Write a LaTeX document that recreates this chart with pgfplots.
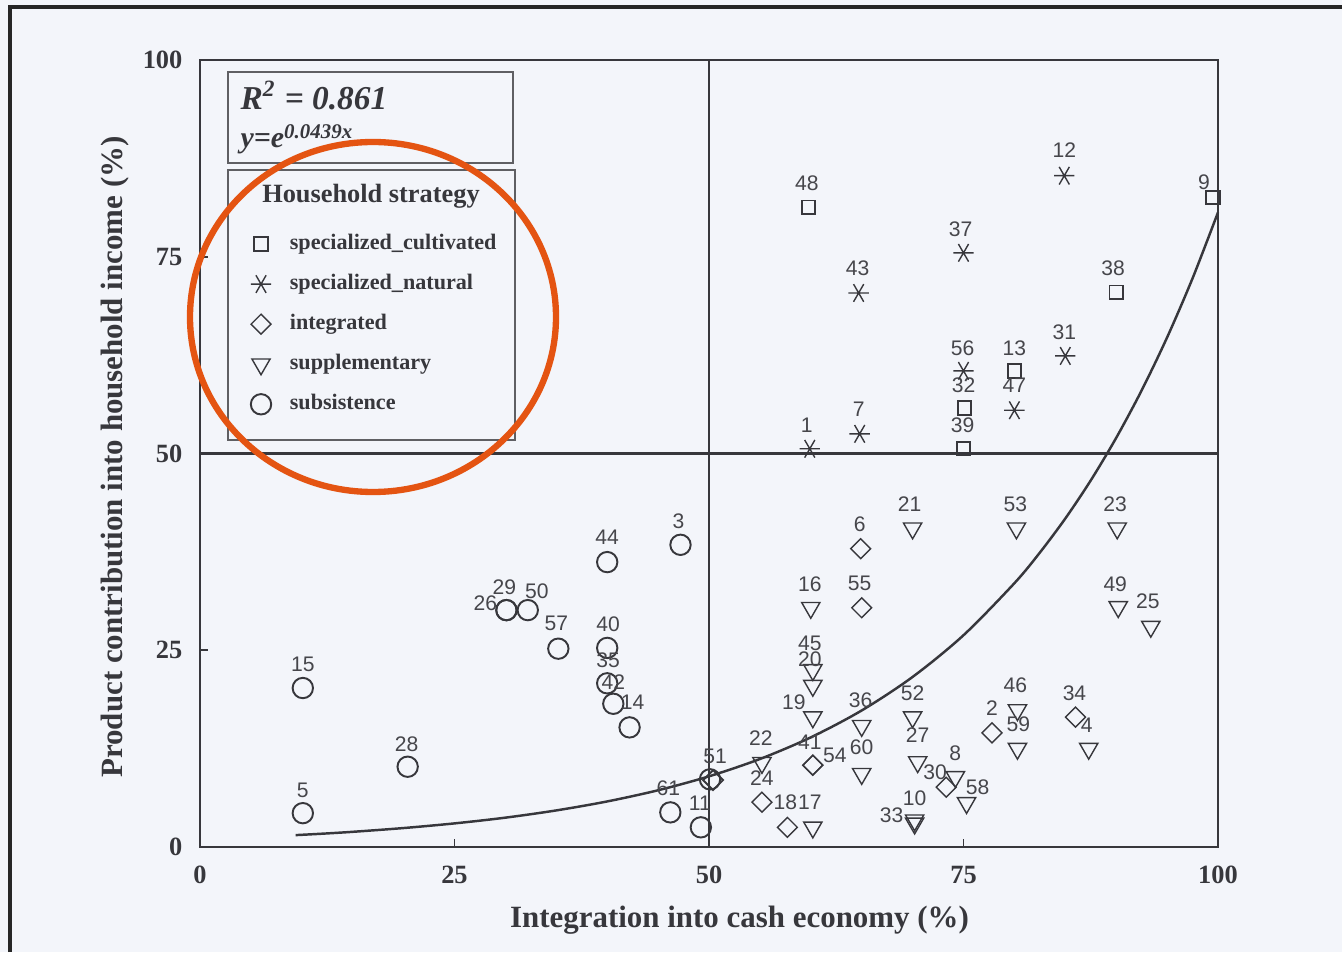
\documentclass[border=0pt]{standalone}
\usepackage{fontspec}
\setmainfont{Liberation Serif}
\newfontfamily\arial{Liberation Sans}
\usepackage{pgfplots}
\usepackage{pgfplotstable}
\pgfplotsset{compat=1.18}

\definecolor{bg}{RGB}{243,245,250}
\definecolor{ink}{RGB}{55,55,60}
\definecolor{lbl}{RGB}{70,70,75}
\definecolor{orng}{RGB}{228,84,18}

% x y label dx dy   (label offsets in 0.1 mm)
\pgfplotstableread{
x y lab dx dy
59.8 81.3 48 -2 24
99.5 82.5 9 -9 15
90.0 70.5 38 -3 24
80.0 60.5 13 0 23
75.1 55.8 32 -1 23
75.0 50.6 39 -1 24
}\cultivated

\pgfplotstableread{
x y lab dx dy
84.9 85.3 12 0 26
75.0 75.5 37 -3 24
64.7 70.4 43 -1 25
85.0 62.4 31 -1 24
75.0 60.5 56 -1 23
80.0 55.5 47 0 25
64.8 52.5 7 -1 25
59.9 50.6 1 -3 24
}\natural

\pgfplotstableread{
x y lab dx dy
64.9 37.9 6 -1 24
65.0 30.4 55 -2 24
77.8 14.5 2 0 25
86.0 16.5 34 -1 24
60.2 10.4 41 -3 23
60.2 10.4 54 22 10
73.3 7.6 30 -11 15
55.2 5.7 24 0 24
57.7 2.5 18 -2 25
}\integrated

\pgfplotstableread{
x y lab dx dy
70.0 40.5 21 -3 24
80.2 40.5 53 -1 24
90.1 40.5 23 -2 24
60.0 30.4 16 -1 24
90.2 30.5 49 -3 23
93.4 28.0 25 -3 25
60.2 22.5 45 -3 27
60.2 20.5 20 -3 26
60.2 16.5 19 -19 15
65.0 15.4 36 -1 26
70.0 16.5 52 0 24
80.3 17.4 46 -2 25
80.3 12.5 59 1 24
87.3 12.5 4 -2 23
55.2 10.7 22 -1 25
65.0 9.3 60 0 27
70.5 10.8 27 0 27
74.2 8.9 8 0 24
75.3 5.6 58 11 16
60.2 2.5 17 -3 25
70.2 3.4 10 0 22
70.2 3.0 33 -23 8
}\supplementary

\pgfplotstableread{
x y lab dx dy
47.2 38.4 3 -2 24
40.0 36.2 44 0 25
30.1 30.1 26 -21 7
30.1 30.1 29 -2 23
32.2 30.1 50 9 19
35.2 25.2 57 -2 25
40.0 25.3 40 1 24
40.0 20.8 35 1 23
40.6 18.2 42 0 22
42.2 15.2 14 3 25
10.1 20.2 15 0 24
20.4 10.2 28 -1 22
10.1 4.3 5 0 23
46.2 4.4 61 -2 24
49.2 2.5 11 -1 24
50.1 8.6 51 5 23
}\subsistence

\pgfplotsset{
  pts/.style={only marks, ink, mark options={line width=0.55pt, fill=none},
    nodes near coords, point meta=explicit symbolic,
    visualization depends on={\thisrow{dx}\as\dx},
    visualization depends on={\thisrow{dy}\as\dy},
    every node near coord/.append style={anchor=center, inner sep=0pt,
      font=\arial\fontsize{6}{6}\selectfont, text=lbl,
      xshift=\dx*0.1mm, yshift=\dy*0.1mm}},
}

\begin{document}
\begin{tikzpicture}
\fill[bg] (-20mm,-10.5mm) rectangle (114.2mm,84.7mm);
\useasboundingbox (-20mm,-10.5mm) rectangle (114.2mm,84.7mm);
\draw[line width=1pt, black!85] (-19mm,-10.5mm) -- (-19mm,84.0mm) -- (114.2mm,84.0mm);

\begin{axis}[
    scale only axis, width=101.8mm, height=78.7mm,
    xmin=0, xmax=100, ymin=0, ymax=100,
    xtick={0,25,50,75,100}, ytick={0,25,50,75,100},
    xtick pos=bottom, ytick pos=left,
    major tick length=2.3pt, tick style={ink, line width=0.5pt},
    axis line style={ink, line width=0.6pt},
    /pgf/number format/assume math mode=true,
    tick label style={font=\bfseries\fontsize{7.5}{9}\selectfont, text=ink},
    xticklabel style={yshift=-2pt},
    yticklabel style={xshift=-1.5pt},
    xlabel={Integration into cash economy (\%)},
    ylabel={Product contribution into household income (\%)},
    label style={font=\bfseries\fontsize{8.8}{10}\selectfont, text=ink},
    xlabel style={at={(axis description cs:0.530,-0.0928)}, anchor=center},
    ylabel style={at={(axis description cs:-0.0835,0.4956)}, anchor=center},
    clip=false,
    legend image code/.code={
      \path[draw=none, fill=none] (-3.2pt,-3.5pt) rectangle (3.2pt,3.5pt);
      \draw[#1] plot coordinates {(0pt,0pt)};},
    legend cell align=left,
    legend style={draw=none, fill=none, inner sep=0pt, outer sep=0pt,
      at={(axis description cs:0.0489,0.7818)}, anchor=north west,
      row sep=4.4pt, column sep=5pt,
      font=\bfseries\fontsize{6.3}{7}\selectfont, text=ink,
      nodes={inner sep=0pt, text height=4.4pt, text depth=1.4pt}},
  ]
\addplot[pts, mark=square, mark size=1.9pt] table[x=x, y=y, meta=lab] {\cultivated};
\addlegendentry{specialized\_cultivated}
\addplot[pts, mark=asterisk, mark size=2.9pt, mark options={rotate=90}] table[x=x, y=y, meta=lab] {\natural};
\addlegendentry{specialized\_natural}
\addplot[pts, mark=square, mark size=2pt, mark options={rotate=45}] table[x=x, y=y, meta=lab] {\integrated};
\addlegendentry{integrated}
\addplot[pts, mark=triangle, mark size=3pt, mark options={rotate=180}] table[x=x, y=y, meta=lab] {\supplementary};
\addlegendentry{supplementary}
\addplot[pts, mark=o, mark size=2.9pt] table[x=x, y=y, meta=lab] {\subsistence};
\addlegendentry{subsistence}

% unlabelled diamond behind point 51
\addplot[only marks, ink, forget plot, mark=square, mark size=2pt,
  mark options={rotate=45, line width=0.55pt}] coordinates {(50.4,8.5)};

% quadrant lines
\addplot[ink, line width=0.6pt, forget plot] coordinates {(0,50) (100,50)};
\addplot[ink, line width=0.6pt, forget plot] coordinates {(50,0) (50,100)};

% fitted curve y = e^{0.0439x}
\addplot[ink, line width=0.7pt, smooth, forget plot] coordinates {
(9.4,1.51)(12,1.69)(15,1.93)(20,2.41)(25,3.00)(30,3.73)(35,4.65)(40,5.79)
(45,7.21)(50,8.98)(55,11.18)(60,13.93)(65,17.35)(70,21.61)(75,26.91)
(80,33.52)(82.5,37.41)(85,41.74)(87.5,46.58)(90,51.99)(92.5,58.02)
(95,64.75)(97.5,72.26)(100,80.64)};
\end{axis}

% boxes and text in the upper left
\draw[ink!80, line width=0.8pt] (2.8mm,68.4mm) rectangle (31.3mm,77.5mm);
\node[anchor=base west, inner sep=0pt, text=ink,
  font=\bfseries\itshape\fontsize{9.5}{11}\selectfont] at (4.0mm,73.7mm)
  {R\textsuperscript{2} = 0.861};
\node[anchor=base west, inner sep=0pt, text=ink,
  font=\bfseries\itshape\fontsize{8.5}{10}\selectfont] at (4.0mm,69.9mm)
  {y=e\textsuperscript{0.0439x}};
\draw[ink!80, line width=0.8pt] (2.8mm,40.7mm) rectangle (31.5mm,67.7mm);
\node[text=ink, font=\bfseries\fontsize{7.5}{9}\selectfont, inner sep=0pt]
  at (17.1mm,65.1mm) {Household strategy};

% highlight ring
\draw[orng, line width=1.8pt] (17.3mm,53.0mm) ellipse [x radius=18.3mm, y radius=17.5mm];
\end{tikzpicture}
\end{document}
